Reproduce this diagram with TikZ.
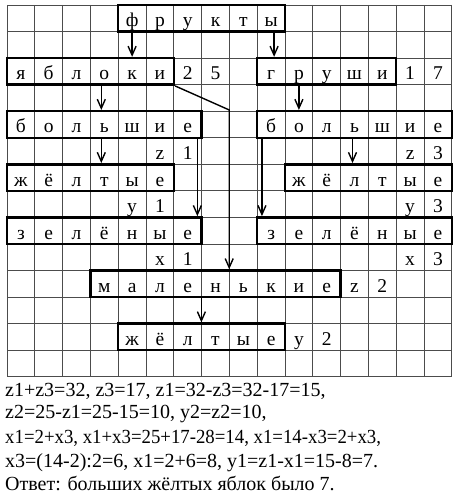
\documentclass[tikz,border=0pt]{standalone}
\usepackage{fontspec}
\setmainfont{Liberation Serif}
\usetikzlibrary{arrows.meta}
\newcommand{\placeletters}[4]{% #1 name, #2 first column, #3 row, #4 letters
  \foreach \l [count=\k from 0] in {#4}
    \node[letter] (#1-\k) at ({7+27.8*(#2+\k+0.5)},{5+26.55*(#3+0.5)}) {\l};
}
\newcommand{\placeword}[5]{% #1 name, #2 first column, #3 row, #4 number of letters, #5 letters
  \node[wordbox, minimum width={27.8*#4}] (#1) at ({7+27.8*(#2+#4/2)},{5+26.55*(#3+0.5)}) {};
  \placeletters{#1}{#2}{#3}{#5}
}
\begin{document}
\begin{tikzpicture}[x=1pt,y=-1pt,
  gridline/.style={draw=black!70, line width=0.9pt},
  wordbox/.style={draw=black, line width=2.5pt, inner sep=0pt, minimum height=26.55pt},
  letter/.style={inner sep=0pt, minimum width=27.8pt, minimum height=26.55pt,
    text height=17pt, text depth=0pt, font=\fontsize{19.5}{21}\selectfont},
  arr/.style={line width=1.4pt, -{Straight Barb[length=9pt,width=8pt,line width=1.4pt]}},
  sol/.style={anchor=base west, inner sep=0pt, font=\fontsize{20}{22}\selectfont}]
\useasboundingbox (0,0) rectangle (463,503);
\fill[white] (0,0) rectangle (463,503);
% grid
\foreach \i in {0,...,16} \draw[gridline] ({7+27.8*\i},5) -- ({7+27.8*\i},376.7);
\foreach \j in {0,...,14} \draw[gridline] (7,{5+26.55*\j}) -- (452,{5+26.55*\j});
% words in boxes
\placeword{frukty}{4}{0}{6}{ф,р,у,к,т,ы}
\placeword{yabloki}{0}{2}{6}{я,б,л,о,к,и}
\placeword{grushi}{9}{2}{5}{г,р,у,ш,и}
\placeword{bolL}{0}{4}{7}{б,о,л,ь,ш,и,е}
\placeword{bolR}{9}{4}{7}{б,о,л,ь,ш,и,е}
\placeword{zhL}{0}{6}{6}{ж,ё,л,т,ы,е}
\placeword{zhR}{10}{6}{6}{ж,ё,л,т,ы,е}
\placeword{zelL}{0}{8}{7}{з,е,л,ё,н,ы,е}
\placeword{zelR}{9}{8}{7}{з,е,л,ё,н,ы,е}
\placeword{mal}{3}{10}{9}{м,а,л,е,н,ь,к,и,е}
\placeword{zhS}{4}{12}{6}{ж,ё,л,т,ы,е}
% numbers and variables
\placeletters{nA}{6}{2}{2,5}
\placeletters{nB}{14}{2}{1,7}
\placeletters{zA}{5}{5}{z,1}
\placeletters{zC}{14}{5}{z,3}
\placeletters{yA}{4}{7}{y,1}
\placeletters{yC}{14}{7}{y,3}
\placeletters{xA}{5}{9}{x,1}
\placeletters{xC}{14}{9}{x,3}
\placeletters{zB}{12}{10}{z,2}
\placeletters{yB}{10}{12}{y,2}
% connectors
\draw[arr] (yabloki-4 |- frukty.south) -- (yabloki-4 |- yabloki.north);
\draw[arr] ([xshift=3pt]grushi-0 |- frukty.south) -- ([xshift=3pt]grushi-0 |- grushi.north);
\draw[arr] ([xshift=-3pt]bolL-3 |- yabloki.south) -- ([xshift=-3pt]bolL-3 |- bolL.north);
\draw[arr] ([xshift=-3pt]bolL-3 |- bolL.south) -- ([xshift=-3pt]bolL-3 |- zhL.north);
\draw[arr] (bolR-1 |- grushi.south) -- (bolR-1 |- bolR.north);
\draw[arr] ([xshift=-2pt]bolR-3 |- bolR.south) -- ([xshift=-2pt]bolR-3 |- zhR.north);
\draw[arr] ([xshift=-5.5pt]bolL.south east) -- ([xshift=-5.5pt]bolL.south east |- zelL.north);
\draw[arr] ([xshift=6pt]bolR.south west) -- ([xshift=6pt]bolR.south west |- zelR.north);
\coordinate (bend) at (mal-5.west |- bolL.north);
\draw[arr] (yabloki.south east) -- (bend) -- (bend |- mal.north);
\draw[arr] (mal-4.west |- mal.south) -- (mal-4.west |- zhS.north);
% solution
\node[sol] (s1) at (5,396) {z1+z3=32, z3=17, z1=32-z3=32-17=15,};
\node[sol] (s2) at (5,418) {z2=25-z1=25-15=10, y2=z2=10,};
\node[sol] (s3) at (5,443) {\scalebox{0.94}[1]{x1=2+x3, x1+x3=25+17-28=14, x1=14-x3=2+x3,}};
\node[sol] (s4) at (5,467) {x3=(14-2):2=6, x1=2+6=8, y1=z1-x1=15-8=7.};
\node[sol] (s5) at (5,490) {Ответ: больших жёлтых яблок было 7.};
\end{tikzpicture}
\end{document}
